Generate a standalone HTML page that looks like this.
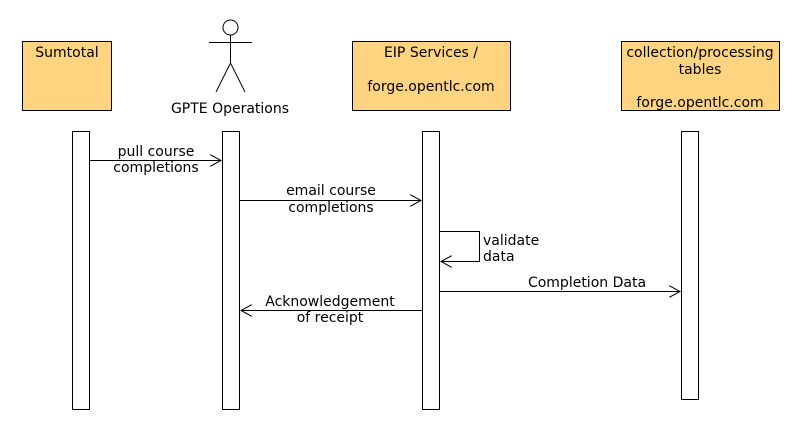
<!DOCTYPE html>
<html><head><style>
body{margin:0;background:#fff;}
svg{display:block;font-family:"DejaVu Sans","Liberation Sans",sans-serif;font-size:14px;}
</style></head><body>
<svg width="800" height="430" viewBox="0 0 800 430" xmlns="http://www.w3.org/2000/svg">
<defs><marker id="a" markerWidth="12" markerHeight="12" refX="11" refY="6" orient="auto" markerUnits="userSpaceOnUse"><path d="M0,0 L11,6 L0,12" fill="none" stroke="#000"/></marker></defs>
<g stroke="#000" fill="#FFD480">
<rect x="22.5" y="41.5" width="89" height="69"/>
<rect x="352.5" y="41.5" width="158" height="69"/>
<rect x="621.5" y="41.5" width="158" height="69"/>
</g>
<g stroke="#000" fill="none">
<circle cx="230.5" cy="27.5" r="7.5"/>
<line x1="230.5" y1="35" x2="230.5" y2="63"/>
<line x1="209" y1="42.5" x2="252" y2="42.5"/>
<line x1="230.5" y1="63" x2="216" y2="92"/>
<line x1="230.5" y1="63" x2="245" y2="92"/>
</g>
<g stroke="#000" fill="#fff">
<rect x="72.5" y="131.5" width="17" height="278"/>
<rect x="222.5" y="131.5" width="17" height="278"/>
<rect x="422.5" y="131.5" width="17" height="278"/>
<rect x="681.5" y="131.5" width="17" height="268"/>
</g>
<g stroke="#000" fill="none">
<line x1="90" y1="160.5" x2="221" y2="160.5" marker-end="url(#a)"/>
<line x1="240" y1="200.5" x2="421" y2="200.5" marker-end="url(#a)"/>
<polyline points="440,231.5 479.5,231.5 479.5,261.5 441,261.5" marker-end="url(#a)"/>
<line x1="440" y1="291.5" x2="680" y2="291.5" marker-end="url(#a)"/>
<line x1="422" y1="310.5" x2="241" y2="310.5" marker-end="url(#a)"/>
</g>
<g fill="#000" text-anchor="middle">
<text x="67" y="57">Sumtotal</text>
<text x="230" y="113">GPTE Operations</text>
<text x="431" y="57">EIP Services /</text>
<text x="431" y="91">forge.opentlc.com</text>
<text x="700" y="57">collection/processing</text>
<text x="700" y="74">tables</text>
<text x="700" y="107">forge.opentlc.com</text>
<text x="156" y="156">pull course</text>
<text x="156" y="172">completions</text>
<text x="331" y="195">email course</text>
<text x="331" y="212">completions</text>
<text x="587" y="287">Completion Data</text>
<text x="330" y="306">Acknowledgement</text>
<text x="330" y="322">of receipt</text>
<text x="483" y="245" text-anchor="start">validate</text>
<text x="483" y="261" text-anchor="start">data</text>
</g>
</svg>
</body></html>
